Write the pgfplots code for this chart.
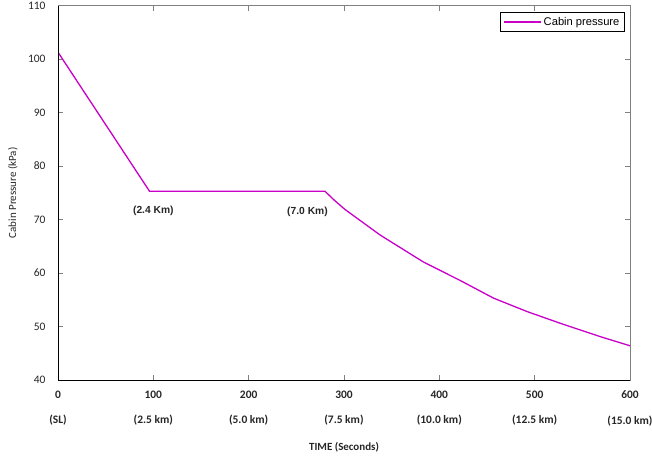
\documentclass[border=0pt]{standalone}
\usepackage{pgfplots}
\pgfplotsset{compat=1.18}
\usepackage{fontspec}
\setmainfont{Carlito}
\newfontfamily\arial{Liberation Sans}
\definecolor{cabin}{RGB}{200,0,200}
\definecolor{axgray}{RGB}{128,128,128}
\begin{document}
\begin{tikzpicture}
\begin{axis}[
  scale only axis, width=572bp, height=374.3bp,
  xmin=0, xmax=600, ymin=40, ymax=110,
  xtick={0,100,...,600}, ytick={40,50,...,110},
  xticklabels={{0\\[14bp](SL)},{100\\[14bp](2.5 km)},{200\\[14bp](5.0 km)},{300\\[14bp](7.5 km)},{400\\[14bp](10.0 km)},{500\\[14bp](12.5 km)},{600\\[14bp](15.0 km)}},
  xticklabel style={align=center, font=\bfseries\fontsize{11.5}{12}\selectfont, text=black!85, yshift=-7bp},
  yticklabel style={font=\fontsize{11.5}{12}\selectfont, text=black!85, xshift=-9bp},
  /pgf/number format/assume math mode=true,
  tick align=inside, major tick length=5bp,
  major tick style={draw=axgray, line width=0.8bp},
  axis line style={draw=axgray, line width=0.9bp},
  xtick pos=both, ytick pos=both,
  xlabel={TIME (Seconds)},
  ylabel={Cabin Pressure (kPa)},
  every axis x label/.style={at={(axis description cs:0.5,-0.179)}, anchor=center, font=\bfseries\fontsize{11}{12}\selectfont, text=black!85},
  every axis y label/.style={at={(axis description cs:-0.0787,0.5)}, rotate=90, anchor=center, font=\fontsize{11}{12}\selectfont, text=black!85},
  legend style={at={(axis description cs:1,1)}, anchor=north east, xshift=-5.3bp, yshift=-6.6bp, draw=black, line width=0.6bp, font=\arial\fontsize{11.2}{12}\selectfont, inner xsep=3bp, inner ysep=2.5bp},
  legend cell align=left,
  legend image code/.code={\draw[cabin, line width=1.3bp] (0bp,0bp) -- (37bp,0bp);},
]
\addplot[cabin, line width=1.3bp] coordinates {
 (0,101.3) (48,88.3) (96,75.3) (280,75.3) (290,73.6) (301,71.9) (338,67.1) (383,62.1)
 (422,58.6) (457,55.3) (492,52.8) (527,50.6) (569,48.1) (600,46.4)
};
\addlegendentry{Cabin pressure}
\draw[black, line width=0.9bp] (axis description cs:0,1) -- (axis description cs:0,0) -- (axis description cs:1,0);
\node[font=\arial\bfseries\fontsize{10.3}{12}\selectfont, text=black!85] at (axis cs:100,71.6) {(2.4 Km)};
\node[font=\arial\bfseries\fontsize{10.3}{12}\selectfont, text=black!85] at (axis cs:261.7,71.4) {(7.0 Km)};
\end{axis}
\pgfresetboundingbox
\path ([xshift=-58bp,yshift=-77bp]current axis.south west) rectangle ([xshift=22bp,yshift=5.7bp]current axis.north east);
\end{tikzpicture}
\end{document}
